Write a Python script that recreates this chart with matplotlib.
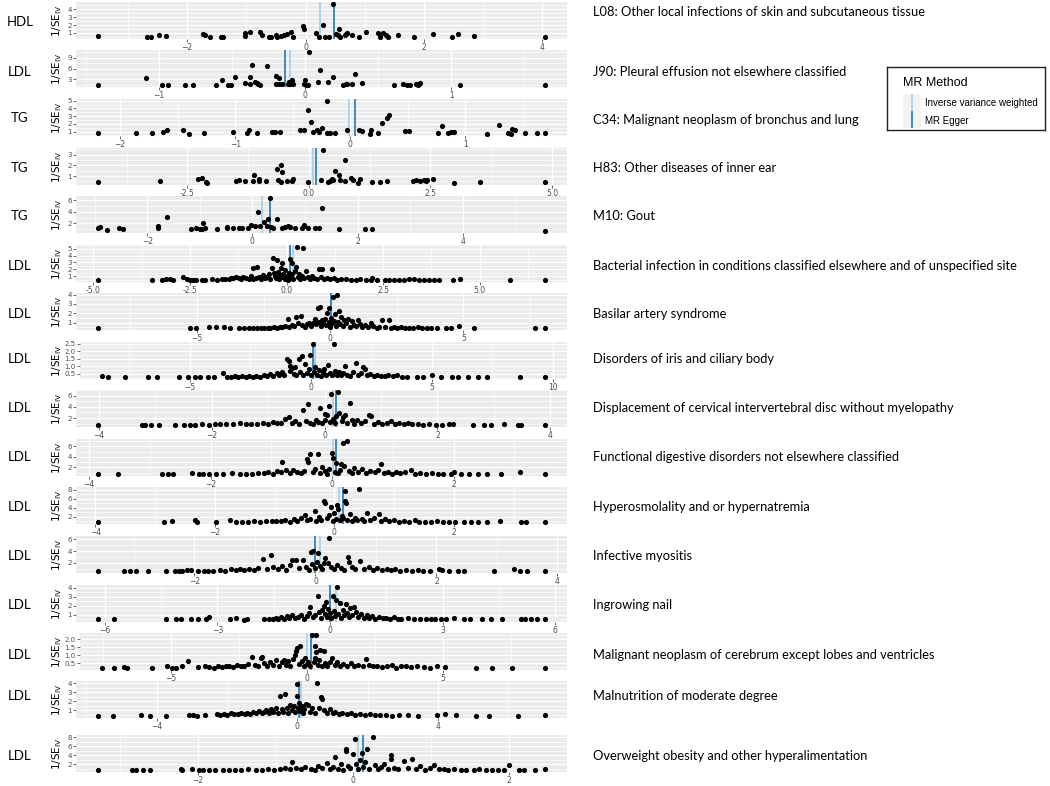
import matplotlib
matplotlib.use('Agg')
import matplotlib.pyplot as plt
from matplotlib.ticker import AutoMinorLocator
from matplotlib.patches import Rectangle

# exposure / outcome for each funnel panel
exposures = ['HDL', 'LDL', 'TG', 'TG', 'TG', 'LDL', 'LDL', 'LDL',
             'LDL', 'LDL', 'LDL', 'LDL', 'LDL', 'LDL', 'LDL', 'LDL']
outcomes = [
    'L08: Other local infections of skin and subcutaneous tissue',
    'J90: Pleural effusion not elsewhere classified',
    'C34: Malignant neoplasm of bronchus and lung',
    'H83: Other diseases of inner ear',
    'M10: Gout',
    'Bacterial infection in conditions classified elsewhere and of unspecified site',
    'Basilar artery syndrome',
    'Disorders of iris and ciliary body',
    'Displacement of cervical intervertebral disc without myelopathy',
    'Functional digestive disorders not elsewhere classified',
    'Hyperosmolality and or hypernatremia',
    'Infective myositis',
    'Ingrowing nail',
    'Malignant neoplasm of cerebrum except lobes and ventricles',
    'Malnutrition of moderate degree',
    'Overweight obesity and other hyperalimentation',
]

# MR estimates (vertical lines)
ivw = [0.25, -0.10, -0.01, 0.09, 0.19, 0.17, 0.03, 0.16, 0.14, 0.01, 0.07, 0.07, 0.16, 0.02, 0.10, 0.06]
egger = [0.48, -0.14, 0.04, 0.15, 0.34, 0.08, 0.02, 0.07, 0.20, 0.06, 0.15, 0.00, 0.00, 0.17, 0.05, 0.12]

# axis breaks per panel
xticks = [[-2, 0, 2, 4], [-1, 0, 1], [-2, -1, 0, 1], [-2.5, 0.0, 2.5, 5.0],
          [-2, 0, 2, 4], [-5.0, -2.5, 0.0, 2.5, 5.0], [-5, 0, 5], [-5, 0, 5, 10],
          [-4, -2, 0, 2, 4], [-4, -2, 0, 2], [-4, -2, 0, 2], [-2, 0, 2, 4],
          [-6, -3, 0, 3, 6], [-5, 0, 5], [-4, 0, 4], [-2, 0, 2]]
yticks = [[1, 2, 3, 4], [3, 6, 9], [1, 2, 3, 4, 5], [1, 2, 3], [2, 4, 6],
          [1, 2, 3, 4, 5], [1, 2, 3, 4], [0.5, 1.0, 1.5, 2.0, 2.5], [2, 4, 6],
          [2, 4, 6], [2, 4, 6, 8], [2, 4, 6], [1, 2, 3, 4], [0.5, 1.0, 1.5, 2.0],
          [1, 2, 3, 4], [2, 4, 6, 8]]
x_decimal = [3, 5]        # panels whose x labels show a decimal
y_decimal = [7, 13]       # panels whose y labels show a decimal

# SNP points: (beta, 1/SE)
snp_l08 = [(-3.50, 0.57), (-2.67, 0.50), (-2.61, 0.52), (-2.48, 0.70), (-2.36, 0.65), (-1.73, 0.85),
           (-1.70, 0.75), (-1.61, 0.50), (-1.43, 0.47), (-1.40, 0.45), (-1.03, 1.00), (-1.03, 0.65),
           (-0.94, 1.15), (-0.77, 1.10), (-0.73, 0.70), (-0.62, 0.50), (-0.59, 0.48), (-0.50, 0.80),
           (-0.48, 0.55), (-0.42, 0.65), (-0.36, 0.80), (-0.32, 0.90), (-0.25, 1.10), (-0.21, 0.55),
           (-0.04, 1.85), (-0.02, 1.50), (0.18, 1.00), (0.23, 0.55), (0.30, 1.95), (0.33, 0.50),
           (0.40, 0.50), (0.47, 4.70), (0.52, 0.90), (0.55, 0.70), (0.57, 1.45), (0.59, 0.55),
           (0.66, 0.70), (0.69, 0.85), (0.70, 1.00), (0.78, 0.70), (0.90, 0.50), (1.02, 1.10),
           (1.23, 1.00), (1.25, 0.50), (1.31, 1.00), (1.36, 0.75), (1.39, 0.55), (1.57, 0.70),
           (1.83, 0.50), (2.15, 0.85), (2.47, 0.50), (2.58, 0.85), (2.84, 0.65), (4.04, 0.50)]

snp_j90 = [(-1.415, 1.5), (-1.09, 3.4), (-0.98, 1.4), (-0.94, 1.3), (-0.82, 1.5), (-0.77, 1.5),
           (-0.61, 1.3), (-0.57, 2.7), (-0.53, 1.5), (-0.51, 1.5), (-0.48, 3.6), (-0.41, 2.0),
           (-0.38, 1.8), (-0.38, 3.5), (-0.36, 7.1), (-0.34, 2.3), (-0.33, 2.0), (-0.32, 1.8),
           (-0.31, 1.5), (-0.26, 6.8), (-0.20, 3.9), (-0.18, 3.4), (-0.20, 1.8), (-0.18, 1.8),
           (-0.16, 1.8), (-0.12, 1.8), (-0.11, 2.3), (-0.10, 1.8), (-0.09, 2.7), (-0.08, 1.8),
           (-0.01, 1.6), (0.0, 2.8), (0.005, 1.4), (0.02, 1.4), (0.03, 10.7), (0.09, 2.1),
           (0.10, 5.6), (0.16, 2.2), (0.19, 3.5), (0.26, 1.5), (0.28, 1.8), (0.29, 1.8),
           (0.32, 1.8), (0.34, 4.5), (0.39, 2.0), (0.61, 1.5), (0.67, 1.8), (0.70, 1.5),
           (0.72, 1.5), (0.76, 1.8), (0.77, 1.5), (0.78, 1.8), (0.79, 2.0), (1.06, 1.5), (1.64, 1.3)]

snp_c34 = [(-2.19, 0.85), (-1.86, 0.8), (-1.72, 0.8), (-1.63, 0.9), (-1.59, 1.15), (-1.45, 1.15),
           (-1.40, 0.7), (-1.27, 0.8), (-1.02, 0.9), (-0.90, 0.8), (-0.88, 1.25), (-0.81, 0.85),
           (-0.68, 0.9), (-0.65, 0.9), (-0.61, 0.9), (-0.44, 1.2), (-0.40, 1.2), (-0.37, 3.8),
           (-0.34, 2.3), (-0.32, 0.9), (-0.29, 1.25), (-0.27, 1.0), (-0.25, 1.45), (-0.20, 5.0),
           (-0.20, 0.8), (-0.18, 0.85), (-0.13, 0.8), (-0.03, 1.2), (0.08, 1.2), (0.10, 1.1),
           (0.17, 0.7), (0.18, 1.15), (0.24, 0.8), (0.28, 2.15), (0.32, 2.75), (0.34, 3.2),
           (0.48, 1.1), (0.51, 1.1), (0.76, 0.85), (0.80, 1.7), (0.85, 0.85), (0.88, 1.0),
           (0.90, 1.0), (1.19, 0.65), (1.29, 1.8), (1.37, 0.85), (1.40, 0.65), (1.41, 1.35),
           (1.43, 1.25), (1.52, 0.8), (1.62, 0.8), (1.69, 0.8)]

snp_h83 = [(-4.33, 0.44), (-3.07, 0.56), (-2.27, 0.75), (-2.20, 0.85), (-2.12, 0.44), (-2.09, 0.38),
           (-1.49, 0.5), (-1.44, 0.62), (-1.31, 0.56), (-1.14, 0.56), (-1.12, 1.1), (-1.03, 0.56),
           (-1.02, 0.72), (-0.89, 0.56), (-0.65, 1.65), (-0.57, 2.0), (-0.55, 1.4), (-0.63, 0.65),
           (-0.57, 0.44), (-0.45, 0.5), (-0.35, 0.56), (-0.33, 0.7), (-0.02, 0.44), (0.29, 3.45),
           (0.25, 0.65), (0.39, 0.44), (0.43, 0.53), (0.47, 0.68), (0.50, 0.6), (0.53, 1.45),
           (0.63, 1.1), (0.65, 0.65), (0.74, 0.5), (0.75, 2.45), (0.87, 0.78), (0.91, 0.65),
           (1.01, 0.38), (1.05, 0.72), (1.30, 0.44), (1.46, 0.44), (1.61, 0.53), (2.15, 0.5),
           (2.21, 0.62), (2.28, 0.5), (2.37, 0.65), (2.40, 0.53), (2.43, 0.62), (2.55, 0.7),
           (2.98, 0.32), (3.51, 0.44), (4.85, 0.44)]

snp_m10 = [(-2.93, 1.25), (-2.90, 1.4), (-2.77, 0.95), (-2.53, 1.25), (-2.46, 1.0), (-1.80, 1.5),
           (-1.79, 1.25), (-1.62, 3.15), (-1.16, 1.0), (-1.08, 1.2), (-1.00, 1.0), (-0.96, 1.1),
           (-0.93, 2.15), (-0.90, 1.2), (-0.68, 1.0), (-0.49, 1.4), (-0.49, 1.2), (-0.36, 1.2),
           (-0.25, 1.2), (-0.19, 1.25), (-0.09, 1.3), (-0.02, 1.75), (0.05, 1.5), (0.11, 3.95),
           (0.15, 1.5), (0.22, 2.3), (0.28, 1.5), (0.30, 2.85), (0.34, 6.45), (0.36, 1.4),
           (0.40, 1.3), (0.46, 2.7), (0.56, 1.25), (0.62, 1.4), (0.67, 1.65), (0.71, 1.35),
           (0.81, 1.2), (0.94, 1.15), (0.98, 1.7), (0.99, 1.5), (1.06, 1.15), (1.20, 1.15),
           (1.27, 1.15), (1.33, 4.7), (1.65, 1.0), (2.15, 1.0), (2.28, 1.0), (5.56, 0.65)]

snp_bact = [(-4.87, 0.42), (-3.48, 0.40), (-3.22, 0.45), (-3.12, 0.55), (-3.02, 0.62), (-2.95, 0.50),
            (-2.68, 0.90), (-2.58, 0.62), (-2.50, 0.50), (-2.42, 0.45), (-2.33, 0.42), (-2.18, 0.45),
            (-2.10, 0.50), (-1.92, 0.55), (-1.80, 0.48), (-1.68, 0.58), (-1.58, 0.52), (-1.50, 0.65),
            (-1.44, 0.80), (-1.38, 0.70), (-1.30, 0.95), (-1.24, 0.75), (-1.18, 0.62), (-1.12, 0.85),
            (-1.05, 0.70), (-0.98, 0.55), (-0.92, 1.05), (-0.88, 0.62), (-0.86, 2.20), (-0.80, 0.75),
            (-0.76, 2.35), (-0.72, 0.95), (-0.66, 0.55), (-0.60, 1.20), (-0.55, 0.80), (-0.50, 0.95),
            (-0.45, 1.25), (-0.42, 0.60), (-0.38, 2.25), (-0.36, 3.65), (-0.33, 1.45), (-0.30, 1.05),
            (-0.27, 0.75), (-0.25, 3.30), (-0.22, 1.60), (-0.20, 0.55), (-0.17, 1.20), (-0.14, 2.20),
            (-0.12, 0.85), (-0.11, 2.90), (-0.08, 1.35), (-0.05, 0.65), (-0.03, 1.90), (0.00, 1.05),
            (0.03, 0.50), (0.06, 1.50), (0.08, 3.50), (0.10, 0.80), (0.13, 2.90), (0.15, 1.25),
            (0.18, 0.60), (0.21, 1.70), (0.25, 2.40), (0.27, 5.30), (0.30, 0.95), (0.33, 1.30),
            (0.36, 0.55), (0.40, 1.10), (0.42, 5.10), (0.45, 0.70), (0.50, 1.80), (0.55, 0.95),
            (0.60, 0.60), (0.66, 1.10), (0.72, 0.75), (0.78, 0.55), (0.84, 2.00), (0.88, 0.85),
            (0.92, 2.00), (0.98, 0.65), (1.05, 0.80), (1.12, 0.55), (1.18, 2.00), (1.22, 0.70),
            (1.30, 0.50), (1.42, 0.62), (1.55, 0.55), (1.68, 0.45), (1.80, 0.50), (1.90, 0.60),
            (2.05, 0.48), (2.18, 0.42), (2.22, 0.75), (2.35, 0.45), (2.55, 0.50), (2.65, 0.40),
            (2.78, 0.42), (2.90, 0.45), (3.05, 0.50), (3.18, 0.55), (3.30, 0.62), (3.42, 0.50),
            (3.55, 0.45), (3.68, 0.50), (3.82, 0.45), (3.95, 0.40), (4.32, 0.45), (4.50, 0.55),
            (5.78, 0.40), (6.68, 0.40)]

snp_basilar = [(-8.70, 0.38), (-5.25, 0.38), (-5.05, 0.38), (-4.55, 0.55), (-4.30, 0.48), (-3.98, 0.52),
               (-3.75, 0.45), (-3.42, 0.45), (-3.25, 0.42), (-3.05, 0.45), (-2.90, 0.40), (-2.75, 0.42),
               (-2.60, 0.45), (-2.48, 0.42), (-2.35, 0.40), (-2.25, 0.45), (-2.12, 0.48), (-2.00, 0.42),
               (-1.90, 0.55), (-1.80, 0.50), (-1.70, 0.62), (-1.60, 1.40), (-1.55, 0.55), (-1.45, 0.75),
               (-1.35, 0.60), (-1.30, 1.60), (-1.22, 0.90), (-1.10, 1.70), (-1.05, 0.70), (-0.95, 0.55),
               (-0.88, 0.85), (-0.80, 1.00), (-0.72, 0.65), (-0.65, 0.95), (-0.58, 1.40), (-0.52, 0.80),
               (-0.46, 2.55), (-0.42, 1.10), (-0.40, 2.70), (-0.35, 0.60), (-0.30, 1.25), (-0.25, 0.95),
               (-0.20, 1.40), (-0.15, 0.70), (-0.10, 2.00), (-0.06, 1.10), (-0.03, 2.60), (0.00, 0.55),
               (0.05, 1.45), (0.08, 0.90), (0.12, 3.70), (0.15, 1.20), (0.20, 1.95), (0.22, 0.65),
               (0.27, 4.00), (0.30, 1.05), (0.33, 2.20), (0.38, 0.80), (0.42, 1.55), (0.48, 0.60),
               (0.52, 1.30), (0.60, 0.95), (0.68, 1.35), (0.75, 0.55), (0.82, 1.20), (0.90, 0.75),
               (0.98, 0.60), (1.05, 1.30), (1.12, 0.85), (1.20, 0.55), (1.30, 0.70), (1.42, 0.50),
               (1.55, 1.00), (1.62, 0.60), (1.75, 0.45), (1.85, 0.55), (1.95, 1.30), (2.05, 0.50),
               (2.20, 1.30), (2.28, 0.45), (2.40, 0.55), (2.52, 0.42), (2.65, 0.48), (2.80, 0.45),
               (2.95, 0.42), (3.10, 0.45), (3.30, 0.50), (3.45, 0.42), (3.62, 0.45), (3.80, 0.40),
               (4.00, 0.42), (4.35, 0.40), (4.55, 0.40), (4.85, 0.58), (5.40, 0.45), (7.70, 0.38),
               (8.05, 0.40)]

snp_iris = [(-8.63, 0.34), (-8.37, 0.27), (-7.67, 0.27), (-6.73, 0.27), (-6.36, 0.30), (-5.46, 0.27),
            (-5.09, 0.27), (-4.80, 0.30), (-4.60, 0.32), (-4.26, 0.27), (-4.00, 0.30), (-3.65, 0.55),
            (-3.45, 0.30), (-3.30, 0.32), (-3.15, 0.35), (-3.00, 0.30), (-2.85, 0.33), (-2.70, 0.30),
            (-2.55, 0.36), (-2.40, 0.30), (-2.25, 0.38), (-2.10, 0.32), (-1.95, 0.40), (-1.80, 0.35),
            (-1.68, 0.48), (-1.55, 0.38), (-1.42, 0.55), (-1.30, 0.40), (-1.20, 0.62), (-1.10, 0.45),
            (-0.98, 1.48), (-0.92, 1.32), (-0.88, 0.70), (-0.85, 1.05), (-0.78, 0.90), (-0.72, 0.50),
            (-0.65, 0.95), (-0.60, 0.40), (-0.50, 1.48), (-0.45, 0.65), (-0.37, 1.70), (-0.32, 0.45),
            (-0.24, 1.15), (-0.18, 0.55), (-0.10, 0.85), (-0.04, 1.75), (0.02, 0.40), (0.07, 2.50),
            (0.12, 0.65), (0.18, 0.95), (0.25, 0.45), (0.32, 0.75), (0.40, 0.38), (0.48, 0.60),
            (0.55, 0.85), (0.62, 0.45), (0.70, 1.07), (0.78, 0.55), (0.86, 0.40), (0.94, 2.50),
            (1.00, 0.70), (1.08, 0.45), (1.15, 0.60), (1.25, 0.40), (1.33, 0.55), (1.40, 1.02),
            (1.50, 0.45), (1.62, 0.38), (1.72, 0.65), (1.86, 1.20), (1.95, 0.45), (2.05, 0.55),
            (2.14, 0.95), (2.22, 0.82), (2.30, 0.40), (2.45, 0.50), (2.60, 0.35), (2.75, 0.42),
            (2.90, 0.38), (3.05, 0.35), (3.20, 0.40), (3.40, 0.35), (3.55, 0.45), (3.75, 0.30),
            (3.98, 0.30), (4.38, 0.27), (4.65, 0.27), (5.00, 0.43), (5.38, 0.27), (5.85, 0.30),
            (6.10, 0.30), (6.50, 0.27), (6.90, 0.30), (7.26, 0.27), (8.66, 0.27), (9.67, 0.30)]

snp_disc = [(-4.01, 0.73), (-3.24, 0.80), (-3.18, 0.80), (-3.07, 0.73), (-2.94, 0.75), (-2.65, 0.70),
            (-2.50, 0.70), (-2.38, 0.75), (-2.30, 0.72), (-2.18, 0.85), (-2.05, 0.70), (-1.95, 0.90),
            (-1.85, 0.85), (-1.75, 0.92), (-1.62, 0.88), (-1.50, 1.05), (-1.40, 1.00), (-1.30, 0.95),
            (-1.20, 0.85), (-1.10, 1.10), (-1.00, 0.90), (-0.92, 1.30), (-0.85, 1.05), (-0.78, 1.20),
            (-0.70, 1.90), (-0.63, 2.20), (-0.58, 1.10), (-0.52, 1.40), (-0.45, 0.90), (-0.38, 3.50),
            (-0.33, 1.55), (-0.30, 4.55), (-0.25, 1.20), (-0.20, 0.95), (-0.15, 1.70), (-0.12, 1.30),
            (-0.075, 3.80), (-0.04, 1.05), (0.00, 1.60), (0.01, 2.80), (0.04, 2.60), (0.07, 4.10),
            (0.09, 1.25), (0.11, 6.35), (0.14, 1.80), (0.18, 1.10), (0.21, 2.40), (0.23, 6.70),
            (0.26, 2.90), (0.30, 1.40), (0.33, 2.10), (0.36, 2.50), (0.40, 1.20), (0.45, 4.65),
            (0.48, 1.60), (0.52, 0.95), (0.58, 1.70), (0.65, 1.20), (0.72, 1.45), (0.79, 2.60),
            (0.82, 2.35), (0.88, 1.00), (0.95, 1.30), (1.02, 0.90), (1.10, 1.15), (1.18, 1.50),
            (1.25, 0.95), (1.32, 1.20), (1.40, 0.90), (1.48, 1.05), (1.55, 0.85), (1.65, 0.95),
            (1.75, 0.80), (1.85, 0.90), (1.98, 0.80), (2.08, 0.75), (2.20, 0.85), (2.28, 0.90),
            (2.63, 0.80), (2.82, 0.80), (2.95, 0.70), (3.18, 0.95), (3.43, 0.75), (3.48, 0.75),
            (3.90, 0.80)]

snp_digest = [(-3.85, 0.70), (-3.52, 0.70), (-2.80, 0.70), (-2.70, 0.80), (-2.62, 0.80), (-2.30, 0.90),
              (-2.20, 0.75), (-2.12, 0.85), (-2.02, 0.70), (-1.92, 0.80), (-1.80, 0.75), (-1.65, 0.95),
              (-1.52, 0.70), (-1.42, 0.85), (-1.32, 0.80), (-1.22, 1.00), (-1.12, 0.90), (-1.05, 1.10),
              (-0.98, 0.85), (-0.90, 1.30), (-0.85, 1.05), (-0.82, 3.10), (-0.76, 1.45), (-0.70, 0.95),
              (-0.65, 1.60), (-0.58, 1.20), (-0.52, 0.90), (-0.46, 1.40), (-0.41, 3.55), (-0.40, 3.10),
              (-0.36, 4.65), (-0.32, 1.15), (-0.28, 1.75), (-0.24, 4.50), (-0.20, 0.95), (-0.16, 2.10),
              (-0.12, 1.30), (-0.08, 0.80), (-0.05, 1.80), (-0.01, 4.70), (0.02, 3.90), (0.04, 1.20),
              (0.07, 2.90), (0.10, 0.90), (0.13, 1.60), (0.15, 2.70), (0.18, 6.60), (0.20, 2.25),
              (0.24, 7.10), (0.27, 1.40), (0.32, 0.95), (0.36, 1.85), (0.42, 1.10), (0.50, 1.70),
              (0.55, 0.90), (0.62, 1.35), (0.70, 1.05), (0.76, 1.50), (0.81, 2.70), (0.86, 1.00),
              (0.92, 1.20), (0.98, 0.85), (1.05, 1.10), (1.12, 0.90), (1.20, 1.05), (1.30, 1.60),
              (1.36, 0.85), (1.45, 0.95), (1.55, 0.80), (1.65, 0.90), (1.75, 0.75), (1.82, 0.85),
              (1.95, 0.80), (2.00, 1.05), (2.12, 0.70), (2.25, 0.75), (2.40, 0.72), (2.55, 0.75),
              (2.78, 0.70), (3.10, 1.10), (3.50, 0.70)]

snp_hyper = [(-3.95, 0.80), (-2.85, 0.75), (-2.72, 1.05), (-2.34, 1.30), (-2.30, 0.85), (-1.98, 0.80),
             (-1.75, 1.30), (-1.65, 0.85), (-1.55, 0.90), (-1.45, 0.85), (-1.35, 1.00), (-1.25, 0.90),
             (-1.15, 1.05), (-1.05, 0.95), (-0.98, 1.15), (-0.90, 1.00), (-0.82, 1.30), (-0.75, 0.90),
             (-0.68, 1.45), (-0.62, 1.05), (-0.55, 1.70), (-0.49, 2.35), (-0.45, 1.20), (-0.40, 1.55),
             (-0.33, 3.25), (-0.30, 1.10), (-0.26, 1.90), (-0.22, 1.30), (-0.18, 5.50), (-0.15, 4.95),
             (-0.12, 1.60), (-0.09, 2.40), (-0.06, 4.20), (-0.03, 1.15), (0.00, 2.80), (0.02, 1.50),
             (0.04, 4.60), (0.06, 3.80), (0.09, 1.20), (0.12, 2.10), (0.15, 1.70), (0.18, 7.70),
             (0.18, 5.45), (0.19, 4.95), (0.22, 1.30), (0.26, 2.50), (0.30, 1.00), (0.34, 1.80),
             (0.38, 1.20), (0.42, 8.20), (0.46, 1.50), (0.50, 1.00), (0.54, 2.90), (0.60, 1.35),
             (0.66, 1.80), (0.74, 2.70), (0.78, 1.10), (0.85, 1.50), (0.92, 0.95), (1.00, 1.20),
             (1.08, 0.90), (1.16, 1.05), (1.25, 0.85), (1.35, 1.30), (1.42, 0.90), (1.52, 0.80),
             (1.62, 0.85), (1.72, 0.95), (1.82, 0.80), (1.92, 0.90), (2.02, 0.85), (2.17, 0.80),
             (2.28, 0.80), (2.40, 0.90), (2.55, 0.80), (2.77, 1.05), (3.13, 0.80), (3.20, 0.80),
             (3.52, 0.80)]

snp_myositis = [(-3.59, 0.53), (-3.16, 0.53), (-3.06, 0.53), (-2.97, 0.53), (-2.77, 0.65), (-2.47, 0.53),
                (-2.33, 0.65), (-2.25, 0.65), (-2.20, 0.60), (-2.13, 0.75), (-2.05, 0.75), (-1.95, 0.60),
                (-1.85, 0.60), (-1.78, 0.65), (-1.70, 0.60), (-1.58, 0.80), (-1.50, 0.65), (-1.40, 1.00),
                (-1.32, 0.70), (-1.25, 0.90), (-1.18, 0.75), (-1.10, 0.95), (-1.02, 0.70), (-0.95, 1.10),
                (-0.86, 2.60), (-0.80, 0.85), (-0.74, 3.25), (-0.70, 1.20), (-0.62, 0.90), (-0.55, 1.40),
                (-0.48, 0.75), (-0.42, 1.60), (-0.38, 2.40), (-0.32, 2.40), (-0.28, 1.10), (-0.20, 2.40),
                (-0.15, 1.30), (-0.10, 0.80), (-0.08, 3.80), (-0.05, 1.70), (-0.04, 4.05), (-0.01, 1.10),
                (0.02, 2.20), (0.05, 3.65), (0.08, 1.50), (0.11, 0.85), (0.14, 1.90), (0.16, 2.75),
                (0.20, 2.00), (0.23, 6.30), (0.25, 1.30), (0.30, 0.90), (0.36, 1.60), (0.42, 1.10),
                (0.48, 0.80), (0.54, 3.05), (0.55, 2.20), (0.60, 1.20), (0.66, 0.85), (0.73, 2.35),
                (0.80, 1.00), (0.88, 1.30), (0.95, 0.80), (1.02, 1.05), (1.10, 0.75), (1.18, 0.90),
                (1.25, 0.70), (1.32, 0.85), (1.40, 0.65), (1.50, 0.75), (1.60, 0.60), (1.70, 0.70),
                (1.78, 0.60), (1.90, 0.65), (2.05, 0.90), (2.10, 0.70), (2.20, 0.65), (2.35, 0.60),
                (2.46, 0.60), (2.96, 0.60), (3.28, 0.85), (3.39, 0.60), (3.49, 0.60), (3.79, 0.60)]

snp_nail = [(-6.17, 0.55), (-5.74, 0.50), (-4.37, 0.50), (-4.09, 0.50), (-3.96, 0.50), (-3.70, 0.50),
            (-3.52, 0.50), (-3.30, 0.58), (-3.22, 0.75), (-2.65, 0.50), (-2.50, 0.62), (-2.29, 0.40),
            (-2.22, 0.50), (-1.75, 0.55), (-1.62, 0.55), (-1.52, 0.60), (-1.45, 0.65), (-1.38, 0.55),
            (-1.30, 0.75), (-1.22, 0.60), (-1.15, 0.85), (-1.08, 0.70), (-1.00, 0.95), (-0.92, 0.65),
            (-0.85, 0.80), (-0.78, 1.00), (-0.70, 0.60), (-0.62, 0.90), (-0.56, 1.20), (-0.52, 1.85),
            (-0.46, 0.75), (-0.40, 1.00), (-0.33, 3.05), (-0.30, 1.30), (-0.25, 0.70), (-0.20, 1.55),
            (-0.16, 2.00), (-0.13, 1.05), (-0.10, 2.45), (-0.07, 0.80), (-0.04, 1.65), (0.00, 1.25),
            (0.03, 0.65), (0.07, 3.05), (0.10, 1.40), (0.13, 0.85), (0.17, 2.60), (0.19, 4.10),
            (0.22, 1.10), (0.26, 2.35), (0.30, 0.70), (0.34, 1.50), (0.38, 0.95), (0.42, 2.15),
            (0.46, 1.20), (0.50, 0.75), (0.54, 1.80), (0.58, 1.00), (0.65, 1.90), (0.70, 1.30),
            (0.76, 0.80), (0.82, 1.10), (0.90, 0.70), (0.98, 0.95), (1.05, 0.65), (1.12, 0.90),
            (1.20, 0.60), (1.30, 0.80), (1.40, 0.65), (1.50, 0.70), (1.60, 0.60), (1.70, 0.75),
            (1.80, 0.60), (1.90, 0.55), (2.09, 0.70), (2.25, 0.55), (2.40, 0.60), (2.55, 0.55),
            (2.68, 0.60), (2.80, 0.55), (2.95, 0.60), (3.10, 0.55), (3.30, 0.62), (3.57, 0.50),
            (3.74, 0.50), (4.04, 0.55), (4.30, 0.50), (4.57, 0.50), (5.08, 0.50), (5.20, 0.50),
            (5.35, 0.50), (5.52, 0.58), (5.72, 0.50)]

snp_cerebrum = [(-7.53, 0.20), (-7.10, 0.20), (-6.72, 0.25), (-6.63, 0.22), (-5.70, 0.18), (-5.16, 0.30),
                (-4.95, 0.20), (-4.80, 0.22), (-4.60, 0.33), (-4.37, 0.63), (-4.00, 0.25), (-3.75, 0.35),
                (-3.60, 0.28), (-3.42, 0.22), (-3.28, 0.32), (-3.12, 0.25), (-2.98, 0.30), (-2.85, 0.35),
                (-2.70, 0.28), (-2.55, 0.38), (-2.42, 0.30), (-2.30, 0.35), (-2.18, 0.45), (-2.02, 0.88),
                (-1.92, 0.40), (-1.80, 0.30), (-1.70, 0.84), (-1.66, 0.92), (-1.58, 0.50), (-1.48, 0.35),
                (-1.36, 0.60), (-1.25, 0.42), (-1.12, 0.70), (-1.02, 0.35), (-0.92, 0.55), (-0.85, 0.72),
                (-0.76, 0.40), (-0.68, 0.62), (-0.60, 0.30), (-0.52, 0.75), (-0.43, 1.03), (-0.40, 1.30),
                (-0.36, 1.46), (-0.30, 0.48), (-0.24, 1.58), (-0.18, 0.65), (-0.12, 0.35), (-0.06, 0.80),
                (0.00, 0.45), (0.06, 0.58), (0.12, 0.32), (0.20, 2.27), (0.25, 0.55), (0.29, 1.56),
                (0.32, 0.80), (0.35, 2.30), (0.35, 1.20), (0.40, 0.42), (0.45, 0.68), (0.50, 1.35),
                (0.55, 0.35), (0.62, 1.25), (0.68, 0.50), (0.75, 0.32), (0.84, 0.60), (0.93, 0.84),
                (1.02, 0.40), (1.12, 0.55), (1.22, 0.30), (1.35, 0.45), (1.48, 0.35), (1.62, 0.50),
                (1.75, 0.30), (1.90, 0.40), (2.05, 0.32), (2.19, 0.78), (2.30, 0.40), (2.45, 0.30),
                (2.60, 0.35), (2.78, 0.25), (2.95, 0.30), (3.12, 0.40), (3.30, 0.22), (3.48, 0.30),
                (3.65, 0.35), (3.85, 0.25), (4.05, 0.30), (4.30, 0.25), (4.55, 0.22), (4.80, 0.30),
                (5.08, 0.25), (6.23, 0.20), (6.83, 0.22), (7.55, 0.22), (8.76, 0.20)]

snp_malnut = [(-5.66, 0.33), (-5.23, 0.33), (-4.44, 0.45), (-4.19, 0.33), (-3.73, 0.40), (-3.08, 0.45),
              (-2.97, 0.45), (-2.85, 0.40), (-2.62, 0.45), (-2.30, 0.60), (-2.20, 0.50), (-2.10, 0.55),
              (-2.00, 0.50), (-1.90, 0.65), (-1.80, 0.55), (-1.70, 0.60), (-1.60, 0.70), (-1.50, 0.55),
              (-1.42, 0.75), (-1.35, 0.60), (-1.25, 0.80), (-1.18, 0.65), (-1.10, 0.90), (-1.02, 0.70),
              (-0.95, 0.85), (-0.88, 1.00), (-0.80, 0.65), (-0.74, 1.10), (-0.68, 0.80), (-0.62, 1.30),
              (-0.55, 0.75), (-0.50, 2.55), (-0.45, 1.10), (-0.40, 0.85), (-0.34, 2.75), (-0.30, 1.25),
              (-0.26, 0.70), (-0.20, 1.60), (-0.15, 1.00), (-0.10, 1.50), (-0.06, 0.80), (-0.02, 3.90),
              (0.00, 2.55), (0.02, 1.20), (0.04, 1.80), (0.08, 0.90), (0.12, 1.45), (0.16, 0.65),
              (0.20, 1.10), (0.24, 1.70), (0.30, 1.63), (0.35, 0.85), (0.42, 1.20), (0.50, 0.75),
              (0.56, 4.05), (0.62, 1.30), (0.68, 2.45), (0.70, 2.20), (0.76, 1.00), (0.84, 0.70),
              (0.92, 1.10), (1.00, 0.65), (1.08, 0.85), (1.18, 0.60), (1.28, 0.75), (1.40, 0.55),
              (1.52, 0.65), (1.65, 0.50), (1.78, 0.60), (1.92, 0.50), (2.05, 0.55), (2.20, 0.45),
              (2.35, 0.50), (2.52, 0.45), (2.70, 0.40), (2.90, 0.45), (3.14, 0.45), (3.42, 0.40),
              (3.97, 0.45), (4.20, 0.55), (4.51, 0.45), (5.07, 0.33), (5.44, 0.33), (6.27, 0.33),
              (7.03, 0.45)]

snp_obesity = [(-3.28, 0.75), (-2.85, 0.85), (-2.79, 0.85), (-2.70, 0.85), (-2.62, 0.85), (-2.22, 1.10),
               (-2.20, 0.80), (-2.07, 0.95), (-1.98, 0.70), (-1.93, 0.70), (-1.86, 0.75), (-1.78, 0.75),
               (-1.68, 0.70), (-1.60, 0.75), (-1.52, 0.70), (-1.45, 0.80), (-1.35, 1.00), (-1.25, 0.85),
               (-1.18, 0.70), (-1.10, 0.90), (-1.02, 0.80), (-0.95, 1.00), (-0.88, 1.30), (-0.82, 0.90),
               (-0.79, 2.60), (-0.74, 1.20), (-0.68, 1.00), (-0.62, 1.40), (-0.55, 1.10), (-0.50, 0.85),
               (-0.45, 1.60), (-0.40, 1.20), (-0.34, 2.40), (-0.30, 0.90), (-0.26, 1.50), (-0.23, 3.60),
               (-0.20, 1.10), (-0.16, 2.00), (-0.13, 0.80), (-0.10, 5.30), (-0.10, 4.90), (-0.07, 1.70),
               (-0.04, 1.20), (0.00, 4.40), (0.02, 7.60), (0.03, 2.20), (0.06, 1.00), (0.08, 2.95),
               (0.11, 4.55), (0.13, 1.50), (0.15, 2.60), (0.18, 5.35), (0.20, 1.10), (0.25, 8.10),
               (0.28, 1.80), (0.32, 0.90), (0.36, 1.40), (0.40, 2.10), (0.44, 1.00), (0.48, 4.00),
               (0.48, 3.20), (0.52, 1.30), (0.58, 0.90), (0.65, 2.70), (0.70, 1.20), (0.75, 3.25),
               (0.80, 1.00), (0.86, 1.60), (0.92, 0.85), (0.98, 1.20), (1.04, 1.80), (1.10, 0.90),
               (1.16, 1.10), (1.22, 0.80), (1.30, 1.00), (1.38, 0.75), (1.45, 0.85), (1.55, 0.75),
               (1.62, 0.90), (1.70, 0.75), (1.78, 0.80), (1.86, 0.75), (1.94, 0.85), (2.00, 1.80),
               (2.13, 0.75), (2.19, 0.80), (2.34, 0.75), (2.46, 0.95)]

panels = [snp_l08, snp_j90, snp_c34, snp_h83, snp_m10, snp_bact, snp_basilar, snp_iris,
          snp_disc, snp_digest, snp_hyper, snp_myositis, snp_nail, snp_cerebrum, snp_malnut, snp_obesity]

# layout in pixels
W, H = 1050, 786
panel_tops = [2, 50, 99, 148, 196, 245, 293, 342, 390, 439, 487, 536, 585, 633, 681, 735]
panel_h = 37
panel_right = 567
left_label_y = [22, 72, 118, 168, 216, 266, 314, 359, 408, 457, 507, 556, 605, 655, 696, 756]
right_label_y = [12, 72, 120, 168, 216, 266, 314, 359, 408, 457, 507, 556, 605, 655, 696, 756]

IVW_COL = '#A6CEE3'
EGGER_COL = '#1F78B4'

fig = plt.figure(figsize=(W / 100, H / 100), dpi=100)
fig.patch.set_facecolor('white')

for i, pts in enumerate(panels):
    top = panel_tops[i]
    left = 80 if i in y_decimal else 76
    ax = fig.add_axes([left / W, 1 - (top + panel_h) / H, (panel_right - left) / W, panel_h / H])
    ax.set_facecolor('#EBEBEB')
    bx = [p[0] for p in pts]
    se = [p[1] for p in pts]
    ax.scatter(bx, se, s=14, color='black', linewidths=0, zorder=3)
    ax.axvline(ivw[i], color=IVW_COL, lw=1.2, zorder=2)
    ax.axvline(egger[i], color=EGGER_COL, lw=1.2, zorder=2)
    ax.margins(x=0.05, y=0.05)

    ax.set_xticks(xticks[i])
    ax.set_yticks(yticks[i])
    if i in x_decimal:
        ax.set_xticklabels([f'{t:.1f}' for t in xticks[i]])
    if i in y_decimal:
        ax.set_yticklabels([f'{t:.1f}' for t in yticks[i]])
    else:
        ax.set_yticklabels([f'{t:g}' for t in yticks[i]])
    ax.xaxis.set_minor_locator(AutoMinorLocator(2))
    ax.yaxis.set_minor_locator(AutoMinorLocator(2))
    ax.grid(which='major', color='white', lw=0.9, zorder=0)
    ax.grid(which='minor', color='white', lw=0.45, zorder=0)
    ax.set_axisbelow(True)
    for sp in ax.spines.values():
        sp.set_visible(False)
    ax.tick_params(which='major', length=2, width=0.5, color='#333333',
                   labelsize=5.5, labelcolor='#4D4D4D', pad=1)
    ax.tick_params(axis='y', labelsize=5)
    ax.tick_params(which='minor', length=0)

    fig.text(57 / W, 1 - (top + panel_h / 2) / H, r'1/SE$_{\mathrm{IV}}$', fontsize=7.5,
             rotation=90, ha='center', va='center')
    fig.text(20 / W, 1 - left_label_y[i] / H, exposures[i], fontsize=9.5,
             ha='center', va='center', family='Lato')
    fig.text(593 / W, 1 - right_label_y[i] / H, outcomes[i], fontsize=9.3,
             ha='left', va='center', family='Lato')

# legend box
lg = fig.add_axes([887 / W, 1 - 130 / H, 158 / W, 63 / H])
lg.set_xlim(0, 158)
lg.set_ylim(63, 0)
lg.set_xticks([])
lg.set_yticks([])
for sp in lg.spines.values():
    sp.set_linewidth(1.0)
    sp.set_color('#222222')
lg.text(16, 16, 'MR Method', fontsize=9, va='center', ha='left', family='Liberation Sans')
lg.add_patch(Rectangle((16, 27), 18, 34, facecolor='#F2F2F2', edgecolor='none'))
lg.plot([25, 25], [28, 44], color=IVW_COL, lw=1.2)
lg.plot([25, 25], [45, 60], color=EGGER_COL, lw=1.2)
lg.text(38, 36, 'Inverse variance weighted', fontsize=7, va='center', ha='left', family='Liberation Sans')
lg.text(38, 54, 'MR Egger', fontsize=7, va='center', ha='left', family='Liberation Sans')

fig.savefig('out.png', dpi=100)
